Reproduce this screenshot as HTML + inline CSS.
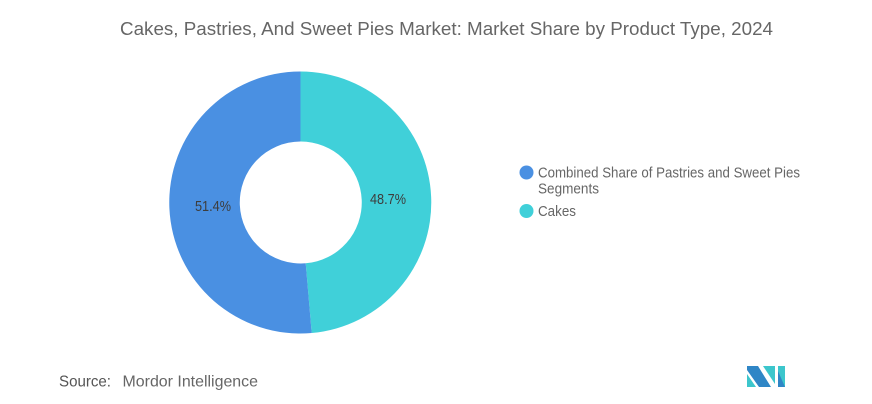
<!DOCTYPE html>
<html>
<head>
<meta charset="utf-8">
<style>
  html, body { margin: 0; padding: 0; background: #ffffff; }
  body { width: 872px; height: 404px; overflow: hidden; }
  svg { display: block; font-family: "Liberation Sans", "DejaVu Sans", sans-serif; }
</style>
</head>
<body>
<svg width="872" height="404" viewBox="0 0 872 404" xmlns="http://www.w3.org/2000/svg">
  <rect width="872" height="404" fill="#ffffff"/>
  <!-- Title -->
  <text x="120" y="35" font-size="18.5" fill="#666666" textLength="653" lengthAdjust="spacingAndGlyphs">Cakes, Pastries, And Sweet Pies Market: Market Share by Product Type, 2024</text>

  <!-- Donut -->
  <path d="M300.5,71.5 A131,131 0 0 1 311.7,333.0 L305.7,263.3 A61,61 0 0 0 300.5,141.5 Z" fill="#40d0d9"/>
  <path d="M311.7,333.0 A131,131 0 1 1 300.5,71.5 L300.5,141.5 A61,61 0 1 0 305.7,263.3 Z" fill="#4a90e2"/>

  <!-- Data labels -->
  <text x="195" y="211" font-size="15" fill="#3d3d3d" textLength="36" lengthAdjust="spacingAndGlyphs">51.4%</text>
  <text x="370" y="204" font-size="15" fill="#3d3d3d" textLength="36" lengthAdjust="spacingAndGlyphs">48.7%</text>

  <!-- Legend -->
  <circle cx="526.5" cy="172.5" r="7" fill="#4a90e2"/>
  <text x="538" y="177.5" font-size="14.5" fill="#666666" textLength="262" lengthAdjust="spacingAndGlyphs">Combined Share of Pastries and Sweet Pies</text>
  <text x="538" y="193.5" font-size="14.5" fill="#666666" textLength="61" lengthAdjust="spacingAndGlyphs">Segments</text>
  <circle cx="526.5" cy="211" r="7" fill="#40d0d9"/>
  <text x="538" y="216" font-size="14.5" fill="#666666" textLength="38" lengthAdjust="spacingAndGlyphs">Cakes</text>

  <!-- Footer -->
  <text x="59" y="386.5" font-size="16" fill="#555555" textLength="52" lengthAdjust="spacingAndGlyphs">Source:</text>
  <text x="122.5" y="386.5" font-size="16" fill="#666666" textLength="135.5" lengthAdjust="spacingAndGlyphs">Mordor Intelligence</text>

  <!-- Logo -->
  <g>
    <polygon points="747,374 747,387 756,387" fill="#3cc6cc"/>
    <polygon points="747,366 758,366 771,387 759,387 747,370" fill="#2f86c6"/>
    <polygon points="763,366 775,366 775,384" fill="#3cc6cc"/>
    <polygon points="778,366 785,366 785,387 778,387" fill="#3cc6cc"/>
    <polygon points="778,371 785,387 778,387" fill="#2f86c6"/>
  </g>
</svg>
</body>
</html>
